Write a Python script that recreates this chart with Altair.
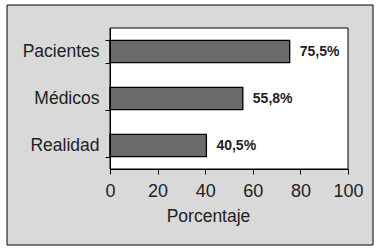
import altair as alt
import pandas as pd

categories = ["Pacientes", "Médicos", "Realidad"]
values = [75.5, 55.8, 40.5]
labels = ["75,5%", "55,8%", "40,5%"]
x_ticks = [0, 20, 40, 60, 80, 100]

df = pd.DataFrame({"grupo": categories, "pct": values, "etiqueta": labels})

W, H = 238, 141
FONT = "Liberation Sans"
TXT = "#222222"

box = alt.Chart(alt.Data(values=[{}])).mark_rect(
    fill="#d9d9d9", stroke="black", strokeWidth=1
).encode(x=alt.value(-103), x2=alt.value(263), y=alt.value(-23), y2=alt.value(217))

panel = alt.Chart(alt.Data(values=[{}])).mark_rect(
    fill="white", stroke="black", strokeWidth=1
).encode(x=alt.value(0), x2=alt.value(W), y=alt.value(0), y2=alt.value(H))

base = alt.Chart(df)

x_enc = alt.X(
    "pct:Q",
    scale=alt.Scale(domain=[0, 100]),
    axis=alt.Axis(
        values=x_ticks, grid=False, tickSize=5, tickColor="black", domainColor="black",
        labelFont=FONT, labelFontSize=18, labelColor=TXT, labelFlush=False,
        labelBaseline="alphabetic", labelPadding=22,
        title="Porcentaje", titleFont=FONT, titleFontSize=17.5, titleFontWeight="normal",
        titleColor=TXT, titleX=98, titleY=52, titleBaseline="alphabetic", titleAlign="center",
        zindex=1,
    ),
)
y_enc = alt.Y(
    "grupo:N",
    sort=categories,
    scale=alt.Scale(paddingInner=0.53, paddingOuter=0.265),
    axis=alt.Axis(
        title=None, tickBand="extent", tickSize=5, tickColor="black", domainColor="black",
        labelFont=FONT, labelFontSize=17.5, labelColor=TXT, labelPadding=6,
        labelBaseline="middle", zindex=1,
    ),
)

bars = base.mark_bar(color="#6b6b6b", stroke="black", strokeWidth=1.3).encode(x=x_enc, y=y_enc)

text = base.mark_text(
    align="left", baseline="middle", dx=10, font=FONT, fontSize=14, fontWeight="bold", color=TXT
).encode(x="pct:Q", y=alt.Y("grupo:N", sort=categories), text="etiqueta:N")

chart = alt.layer(box, panel, bars, text).properties(
    width=W, height=H,
    padding={"left": 110, "top": 28, "right": 34, "bottom": 82},
    autosize="none",
).configure(background="white").configure_view(stroke=None)

chart.save("out.html", embed_options={"renderer": "svg", "actions": False})
